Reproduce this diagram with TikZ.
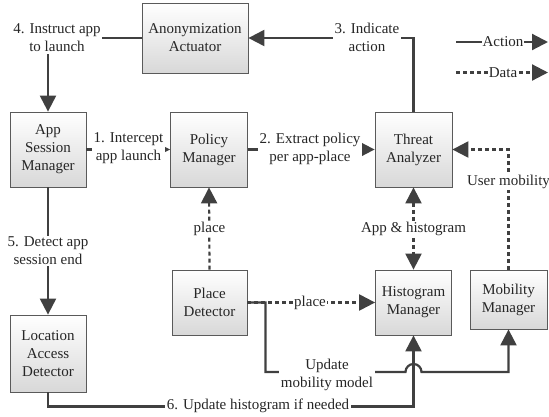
\documentclass[tikz,border=0pt]{standalone}
\usepackage{fontspec}
\setmainfont{Liberation Serif}
\usetikzlibrary{arrows.meta}
\definecolor{ln}{HTML}{404040}
\definecolor{bd}{HTML}{5A5A5A}
\definecolor{txt}{HTML}{262626}
\definecolor{shade}{HTML}{D8D8D8}
\tikzset{
  tip/.tip={Triangle[length=16pt,width=16pt]},
  box/.style={rectangle, draw=bd, line width=0.8pt, top color=white, bottom color=shade,
    align=center, inner sep=0pt, text=txt, font=\fontsize{15}{18}\selectfont},
  act/.style={draw=ln, line width=2.2pt, -tip},
  dat/.style={draw=ln, line width=2.2pt, dash pattern=on 4pt off 3pt, -tip},
  lbl/.style={fill=white, inner sep=1.5pt, align=center, text=txt, font=\fontsize{15}{18}\selectfont},
}
\begin{document}
\begin{tikzpicture}[x=1pt, y=-1pt]
\useasboundingbox (0,0) rectangle (549,416);
% boxes
\node[box, minimum width=106pt, minimum height=70pt] (AA) at (195,38) {Anonymization\\Actuator};
\node[box, minimum width=76pt, minimum height=75pt] (ASM) at (48,149.5) {App\\Session\\Manager};
\node[box, minimum width=77pt, minimum height=75pt] (PM) at (209,149.5) {Policy\\Manager};
\node[box, minimum width=77pt, minimum height=75pt] (TA) at (413.5,149.5) {Threat\\Analyzer};
\node[box, minimum width=75pt, minimum height=65pt] (PD) at (209.5,302.5) {Place\\Detector};
\node[box, minimum width=76pt, minimum height=77pt] (LAD) at (48,353.5) {Location\\Access\\Detector};
\node[box, minimum width=76pt, minimum height=65pt] (HM) at (413.5,302.5) {Histogram\\Manager};
\node[box, minimum width=77pt, minimum height=59pt] (MM) at (508.5,299.5) {Mobility\\Manager};
% action connectors
\draw[act] (ASM.east) -- (PM.west);
\draw[act] (PM.east) -- (TA.west);
\draw[act] (TA.north) |- (AA.east);
\draw[act] (AA.west) -| (ASM.north);
\draw[act] (ASM.south) -- (LAD.north);
\draw[act] (LAD.south) -- ++(0,14) -| (HM.south);
\coordinate (hopA) at (405.5,372);
\draw[act] (PD.east) -- ++(18,0) |- (hopA) arc[start angle=180, end angle=0, radius=8pt] -| (MM.south);
% data connectors
\draw[dat] (PD.north) -- (PM.south);
\draw[dat, tip-tip] (TA.south) -- (HM.north);
\draw[dat] (MM.north) |- (TA.east);
\draw[dat] (PD.east) -- (HM.west);
% labels
\node[lbl] (l1) at (128.5,148) {1. Intercept\\app launch};
\node[lbl] (l2) at (310,149) {2. Extract policy\\per app-place};
\node[lbl] (l3) at (367,37) {3. Indicate\\action};
\node[lbl] (l4) at (57,38) {4. Instruct app\\to launch};
\node[lbl] (l5) at (48,251) {5. Detect app\\session end};
\node[lbl] (l6) at (258,406) {6. Update histogram if needed};
\node[lbl] (lu) at (327,375) {Update\\mobility model};
\node[lbl] (lp1) at (209.5,229) {place};
\node[lbl] (lp2) at (310,302.5) {place};
\node[lbl] (lah) at (413.5,229) {App \& histogram};
\node[lbl] (lum) at (508.5,182) {User mobility};
% legend
\coordinate (la1) at (456,42);
\coordinate (la2) at (548,42);
\coordinate (ld1) at (456,72.5);
\coordinate (ld2) at (548,72.5);
\draw[act] (la1) -- (la2) node[lbl, midway, inner sep=0.5pt, xshift=1pt] {Action};
\draw[dat] (ld1) -- (ld2) node[lbl, midway, inner sep=0.5pt, xshift=1pt] {Data};
\end{tikzpicture}
\end{document}
